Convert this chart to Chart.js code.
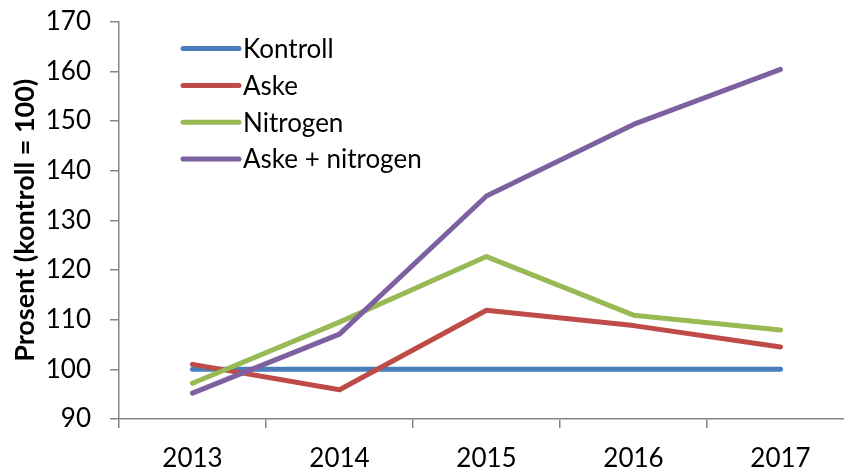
<!DOCTYPE html>
<html>
<head>
<meta charset="utf-8">
<script src="https://cdn.jsdelivr.net/npm/chart.js@4"></script>
<style>
  html, body { margin: 0; padding: 0; background: #fff; overflow: hidden; }
  #wrap { position: relative; width: 870px; height: 483px; margin-top: -13px; }
</style>
</head>
<body>
<div id="wrap"><canvas id="chart" width="870" height="483"></canvas></div>
<script>
var years = ["2013", "2014", "2015", "2016", "2017"];
var kontroll = [100, 100, 100, 100, 100];
var aske = [101, 95.9, 111.9, 108.8, 104.5];
var nitrogen = [97.2, 109.5, 122.7, 110.9, 107.9];
var askeNitrogen = [95.2, 107.1, 134.9, 149.3, 160.4];
var yMin = 90, yMax = 170, yStep = 10;

var FONT = "Lato, 'Open Sans', sans-serif";
var AXIS = "#868686";

function ds(label, data, color, order) {
    return { label: label, data: data, borderColor: color, backgroundColor: color, borderWidth: 5,
        pointRadius: 0, tension: 0, borderCapStyle: "round", borderJoinStyle: "round", order: order };
}

// legend drawn inside the plot area, top left
var innerLegend = {
    id: "innerLegend",
    afterDraw: function (chart) {
        var ctx = chart.ctx, a = chart.chartArea;
        var x0 = a.left + 64, y0 = a.top + 27, row = 36.8;
        ctx.save();
        ctx.font = "26px " + FONT;
        ctx.textBaseline = "middle";
        ctx.textAlign = "left";
        chart.data.datasets.forEach(function (d, i) {
            var y = y0 + i * row;
            ctx.strokeStyle = d.borderColor;
            ctx.lineWidth = 5;
            ctx.lineCap = "round";
            ctx.beginPath(); ctx.moveTo(x0, y); ctx.lineTo(x0 + 56, y); ctx.stroke();
            ctx.fillStyle = "#000";
            ctx.fillText(d.label, x0 + 60, y + 1);
        });
        ctx.restore();
    }
};

new Chart(document.getElementById("chart"), {
    type: "line",
    data: {
        labels: years,
        datasets: [
            ds("Kontroll", kontroll, "#4A7EBB", 4),
            ds("Aske", aske, "#BE4B48", 3),
            ds("Nitrogen", nitrogen, "#98B954", 2),
            ds("Aske + nitrogen", askeNitrogen, "#7D60A0", 1)
        ]
    },
    options: {
        responsive: false,
        animation: false,
        layout: { padding: { top: 7, right: 16, left: 0, bottom: 0 } },
        plugins: { legend: { display: false }, tooltip: { enabled: false } },
        scales: {
            x: {
                offset: true,
                grid: { offset: true, drawOnChartArea: false, color: AXIS, tickLength: 9, lineWidth: 1.5 },
                border: { color: AXIS, width: 1.5 },
                ticks: { color: "#000", font: { family: FONT, size: 26 }, padding: 15, maxRotation: 0 },
                afterFit: function (s) { s.height = 51; }
            },
            y: {
                min: yMin, max: yMax,
                grid: { drawOnChartArea: false, color: AXIS, tickLength: 9, lineWidth: 1.5 },
                border: { color: AXIS, width: 1.5 },
                ticks: { stepSize: yStep, color: "#000", font: { family: FONT, size: 26 }, padding: 19 },
                title: { display: true, text: "Prosent (kontroll = 100)", color: "#000",
                    font: { family: FONT, size: 27, weight: "bold" }, padding: { top: 9, bottom: 0 } },
                afterFit: function (s) { s.width = 119; }
            }
        }
    },
    plugins: [innerLegend]
});
</script>
</body>
</html>
